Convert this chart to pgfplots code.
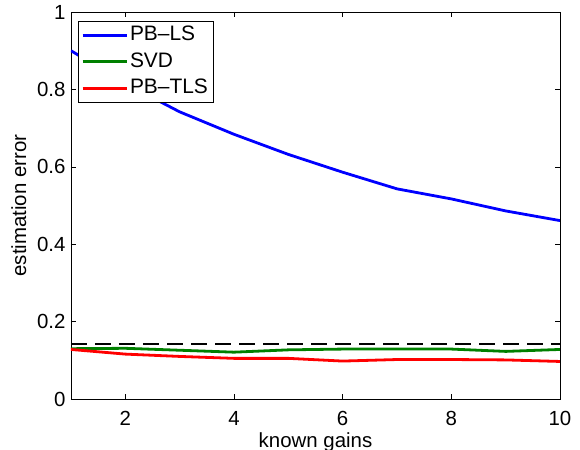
\documentclass[border=0pt]{standalone}
\usepackage{fontspec}
\setmainfont{Liberation Sans}
\usepackage{pgfplots}
\pgfplotsset{compat=1.18}

\definecolor{mblue}{rgb}{0,0,1}
\definecolor{mgreen}{rgb}{0,0.5,0}
\definecolor{mred}{rgb}{1,0,0}

\begin{document}
\begin{tikzpicture}
\begin{axis}[
    scale only axis,
    width=489bp, height=387bp,
    at={(0,0)}, anchor=south west,
    xmin=1, xmax=10, ymin=0, ymax=1,
    xtick={2,4,6,8,10},
    ytick={0,0.2,0.4,0.6,0.8,1},
    yticklabels={0,0.2,0.4,0.6,0.8,1},
    tick align=inside,
    major tick length=5bp,
    tick style={black, line width=0.5pt},
    axis line style={black, line width=0.8pt},
    /pgf/number format/assume math mode=true,
    tick label style={font=\fontsize{20.5}{24}\selectfont},
    xticklabel style={yshift=-9bp},
    yticklabel style={xshift=-2bp},
    label style={font=\fontsize{20.5}{24}\selectfont},
    xlabel={known gains},
    ylabel={estimation error},
    xlabel style={yshift=0bp},
    ylabel style={yshift=4bp},
    legend style={at={(0.014,0.977)}, anchor=north west,
                  draw=black, line width=0.8pt, fill=white,
                  font=\fontsize{21}{24}\selectfont,
                  nodes={text height=15bp, text depth=4bp},
                  row sep=3.5bp, inner xsep=3bp, inner ysep=2.5bp},
    legend cell align=left,
    legend image code/.code={\draw[#1, line width=2.8bp] (0bp,0bp) -- (44bp,0bp);},
]
\addplot[mblue, line width=2.8bp] coordinates {
  (1,0.900) (2,0.815) (3,0.742) (4,0.684) (5,0.632)
  (6,0.586) (7,0.543) (8,0.517) (9,0.486) (10,0.461)
};
\addlegendentry{PB--LS}
\addplot[mgreen, line width=2.8bp] coordinates {
  (1,0.130) (2,0.131) (3,0.126) (4,0.121) (5,0.127)
  (6,0.129) (7,0.129) (8,0.129) (9,0.123) (10,0.128)
};
\addlegendentry{SVD}
\addplot[mred, line width=2.8bp] coordinates {
  (1,0.128) (2,0.116) (3,0.110) (4,0.105) (5,0.105)
  (6,0.098) (7,0.102) (8,0.102) (9,0.101) (10,0.097)
};
\addlegendentry{PB--TLS}
\addplot[black, line width=2.8bp, dash pattern=on 16bp off 8bp, forget plot] coordinates {
  (1,0.142) (10,0.142)
};
\end{axis}
\pgfresetboundingbox
\path (-71bp,-51bp) rectangle (509bp,399bp);
\end{tikzpicture}
\end{document}
